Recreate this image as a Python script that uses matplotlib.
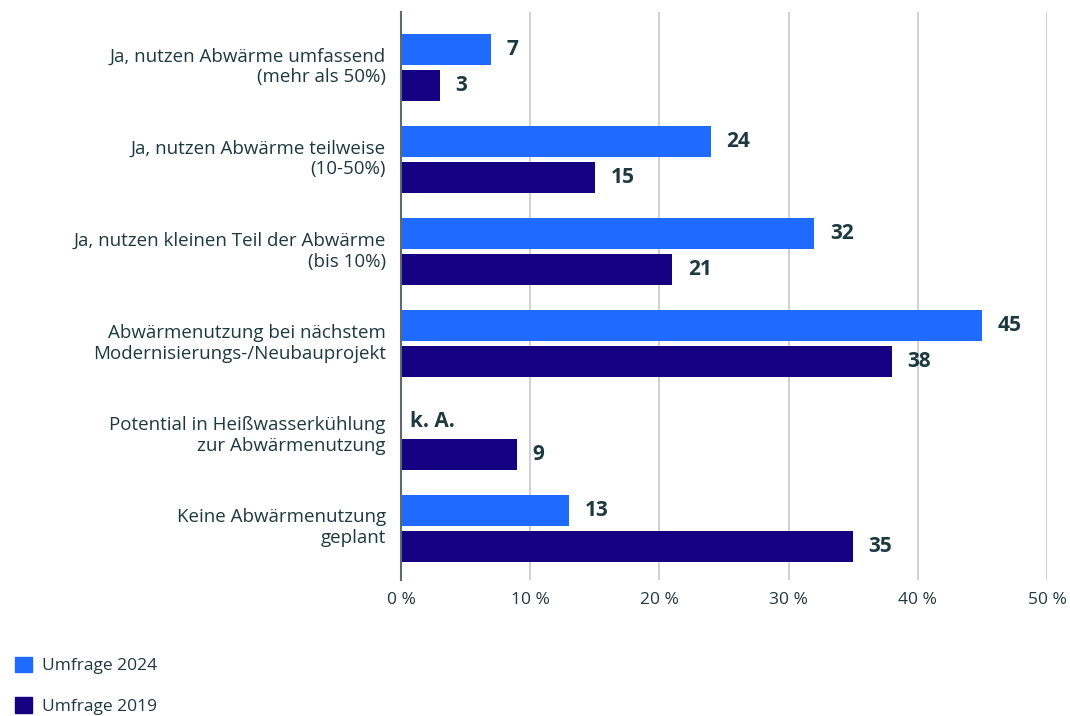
import numpy as np
import matplotlib.pyplot as plt
import matplotlib.transforms as mtransforms
from matplotlib.patches import Patch

plt.rcParams['font.family'] = ['Open Sans', 'DejaVu Sans']

# data
categories = [
    "Ja, nutzen Abwärme umfassend\n(mehr als 50%)",
    "Ja, nutzen Abwärme teilweise\n(10-50%)",
    "Ja, nutzen kleinen Teil der Abwärme\n(bis 10%)",
    "Abwärmenutzung bei nächstem\nModernisierungs-/Neubauprojekt",
    "Potential in Heißwasserkühlung\nzur Abwärmenutzung",
    "Keine Abwärmenutzung\ngeplant",
]
values_2024 = [7, 24, 32, 45, None, 13]
values_2019 = [3, 15, 21, 38, 9, 35]
series_names = ["Umfrage 2024", "Umfrage 2019"]
xticks = [0, 10, 20, 30, 40, 50]

c2024 = "#1f6bff"
c2019 = "#140080"
txt = "#1d3940"

fig = plt.figure(figsize=(10.7, 7.16), dpi=100)
ax = fig.add_axes([401 / 1070, 1 - 580 / 716, 646 / 1070, 568 / 716])

y = np.arange(len(categories))
h = 0.336
off = 0.195

for i, (a, b) in enumerate(zip(values_2024, values_2019)):
    if a is not None:
        ax.barh(y[i] - off, a, height=h, color=c2024, zorder=3)
        ax.text(a + 1.2, y[i] - off, str(a), va="center", ha="left",
                fontsize=15, fontweight="bold", color=txt)
    else:
        ax.text(0.7, y[i] - off + 0.04, "k. A.", va="center", ha="left",
                fontsize=15, fontweight="bold", color=txt)
    ax.barh(y[i] + off, b, height=h, color=c2019, zorder=3)
    ax.text(b + 1.2, y[i] + off, str(b), va="center", ha="left",
            fontsize=15, fontweight="bold", color=txt)

ax.set_xlim(0, 50)
ax.set_ylim(len(categories) - 0.44, -0.6)
ax.set_xticks(xticks)
ax.set_xticklabels([f"{t} %" for t in xticks], fontsize=12.5, color=txt)
ax.set_yticks(y)
ax.set_yticklabels(categories, fontsize=13.5, color=txt, linespacing=1.2)
ax.tick_params(axis="x", length=0, pad=9)
ax.tick_params(axis="y", length=0, pad=11)
# nudge category labels up a little
shift = mtransforms.ScaledTranslation(0, 4 / 100, fig.dpi_scale_trans)
for lbl in ax.get_yticklabels():
    lbl.set_transform(lbl.get_transform() + shift)
ax.grid(axis="x", color="#c8c8c8", linewidth=1.2, zorder=0)
for s in ["top", "right", "bottom"]:
    ax.spines[s].set_visible(False)
ax.spines["left"].set_color("#5b6b70")
ax.spines["left"].set_linewidth(1.5)
ax.spines["left"].set_zorder(4)

handles = [Patch(color=c2024), Patch(color=c2019)]
fig.legend(handles, series_names, loc="lower left", bbox_to_anchor=(-0.001, -0.02),
           frameon=False, fontsize=12.5, labelcolor=txt, handlelength=1.0,
           handleheight=1.0, handletextpad=0.6, labelspacing=1.3)

fig.savefig("out.png", dpi=100)
